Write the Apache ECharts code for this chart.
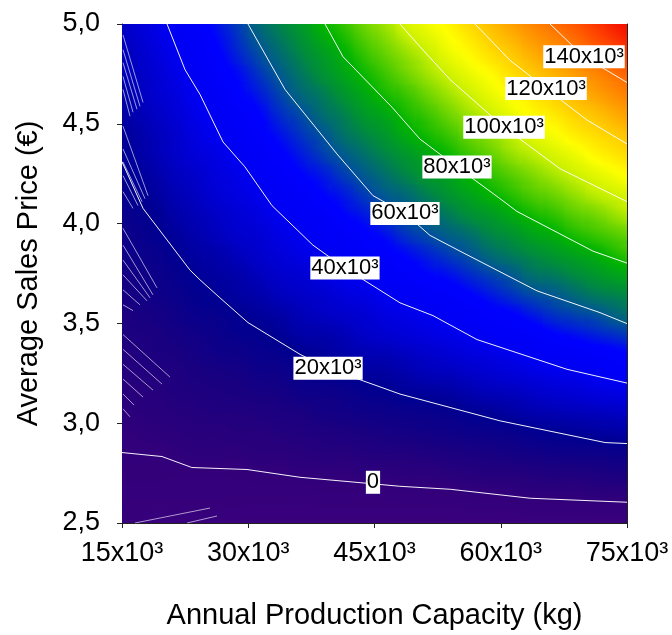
<!DOCTYPE html>
<html>
<head>
<meta charset="utf-8">
<script src="https://cdn.jsdelivr.net/npm/echarts@6/dist/echarts.min.js"></script>
<style>html,body{margin:0;padding:0;background:#fff}#c{width:672px;height:635px}</style>
</head>
<body>
<div id="c"></div>
<script>
// x: annual production capacity (x10^3 kg), cell centres
const xCenters = [16.25,18.75,21.25,23.75,26.25,28.75,31.25,33.75,36.25,38.75,41.25,43.75,46.25,48.75,51.25,53.75,56.25,58.75,61.25,63.75,66.25,68.75,71.25,73.75];
// y: average sales price (EUR), cell centres
const yCenters = [2.55,2.65,2.75,2.85,2.95,3.05,3.15,3.25,3.35,3.45,3.55,3.65,3.75,3.85,3.95,4.05,4.15,4.25,4.35,4.45,4.55,4.65,4.75,4.85,4.95];
// profit (x10^3), one array per x column, bottom to top
const zByColumn = [
[-4,-3,-1,0,1,3,4,6,7,9,10,12,13,15,16,18,19,21,22,23,25,26,28,29,31],
[-5,-3,-1,0,2,4,5,7,9,10,12,14,15,17,19,20,22,24,26,27,29,31,32,34,36],
[-5,-3,-1,1,3,5,7,8,10,12,14,16,18,20,22,24,26,28,30,31,33,35,37,39,41],
[-5,-3,-1,2,4,6,8,10,12,14,17,19,21,23,25,27,29,31,34,36,38,40,42,44,46],
[-5,-3,-1,2,4,7,9,11,14,16,18,21,23,25,28,30,33,35,37,40,42,44,47,49,51],
[-6,-3,-1,2,5,7,10,12,15,18,20,23,25,28,31,33,36,38,41,43,46,49,51,54,56],
[-6,-3,0,3,5,8,11,14,17,19,22,25,28,31,33,36,39,42,45,48,50,53,56,59,62],
[-6,-3,0,3,6,9,12,15,18,21,24,28,31,34,37,40,43,46,49,52,55,58,61,64,67],
[-6,-3,1,4,7,10,14,17,20,24,27,30,33,37,40,43,46,50,53,56,59,63,66,69,72],
[-6,-2,1,5,8,12,15,19,22,25,29,32,36,39,43,46,50,53,57,60,64,67,71,74,78],
[-6,-2,1,5,9,13,16,20,24,27,31,35,39,42,46,50,53,57,61,65,68,72,76,79,83],
[-6,-2,2,6,10,14,18,22,26,30,33,37,41,45,49,53,57,61,65,69,73,77,81,85,89],
[-6,-2,2,7,11,15,19,23,27,32,36,40,44,48,52,57,61,65,69,73,77,82,86,90,94],
[-6,-1,3,7,12,16,21,25,29,34,38,42,47,51,56,60,64,69,73,78,82,86,91,95,100],
[-6,-1,3,8,13,17,22,27,31,36,40,45,50,54,59,63,68,73,77,82,86,91,96,100,105],
[-6,-1,4,9,14,18,23,28,33,38,43,47,52,57,62,67,72,76,81,86,91,96,101,106,110],
[-5,0,5,10,15,20,25,30,35,40,45,50,55,60,65,71,76,81,86,91,96,101,106,111,116],
[-5,0,6,11,16,21,27,32,37,43,48,53,58,64,69,74,80,85,90,95,101,106,111,117,122],
[-5,1,6,12,17,23,28,34,39,45,50,56,61,67,72,78,84,89,95,100,106,111,117,122,128],
[-4,2,7,13,19,25,30,36,42,47,53,59,65,70,76,82,88,93,99,105,111,116,122,128,134],
[-4,2,8,14,20,26,32,38,44,50,56,61,67,73,79,85,91,97,103,109,115,121,127,133,139],
[-4,2,8,15,21,27,33,39,45,52,58,64,70,76,83,89,95,101,107,114,120,126,132,138,144],
[-4,3,9,15,22,28,35,41,47,54,60,67,73,79,86,92,99,105,112,118,124,131,137,144,150],
[-4,3,10,16,23,29,36,43,49,56,63,69,76,83,89,96,102,109,116,122,129,136,142,149,156]
];
// contour lines: [capacity x10^3, price]
const contour0   = [[15,2.853],[19.75,2.833],[23.3,2.778],[29.85,2.768],[36.15,2.729],[44.1,2.699],[48.0,2.684],[54.0,2.669],[63.5,2.624],[75,2.604]];
const contour20  = [[15,4.31],[17.5,4.076],[23.08,3.767],[24.27,3.718],[26.64,3.628],[29.97,3.504],[36.15,3.345],[39.48,3.275],[48.03,3.146],[59.9,3.012],[72.4,2.903],[75,2.898]];
const contour40  = [[20.35,5.0],[22.49,4.771],[24.27,4.647],[27.0,4.409],[29.61,4.284],[32.82,4.09],[37.69,3.892],[41.49,3.777],[48.03,3.603],[51.95,3.539],[57.18,3.419],[67.87,3.27],[75,3.201]];
const contour60  = [[29.97,5.0],[34.37,4.672],[40.54,4.349],[44.82,4.14],[48.62,4.051],[51.59,3.941],[55.16,3.862],[64.31,3.663],[71.79,3.554],[75,3.499]];
const contour80  = [[39.12,5.0],[41.26,4.836],[47.08,4.583],[50.41,4.423],[54.8,4.284],[59.91,4.125],[61.93,4.061],[70.96,3.862],[75,3.802]];
const contour100 = [[48.03,5.0],[50.41,4.886],[53.97,4.722],[60.39,4.483],[67.04,4.275],[75,4.11]];
const contour120 = [[56.94,5.0],[61.1,4.818],[65.38,4.677],[70.2,4.52],[75,4.399]];
const contour140 = [[65.85,5.0],[69.89,4.836],[75,4.707]];
const contours = [contour0, contour20, contour40, contour60, contour80, contour100, contour120, contour140];
// short white artefact strokes near the left edge
const streakSegments = [
[[15.12,4.945],[17.50,4.607]],[[15.12,4.871],[17.14,4.587]],[[15.12,4.806],[16.78,4.573]],[[15.12,4.737],[16.31,4.558]],[[15.12,4.672],[15.95,4.538]],
[[15.12,4.488],[18.09,4.140]],[[15.12,4.374],[17.73,4.125]],[[15.12,4.309],[17.38,4.110]],[[15.12,4.240],[16.90,4.090]],[[15.12,4.160],[16.31,4.076]],
[[15.12,3.976],[19.16,3.678]],[[15.12,3.892],[18.68,3.643]],[[15.12,3.817],[18.33,3.628]],[[15.12,3.743],[17.97,3.613]],[[15.12,3.668],[17.14,3.593]],[[15.12,3.593],[16.31,3.564]],
[[15.12,3.444],[20.70,3.231]],[[15.12,3.370],[19.75,3.196]],[[15.12,3.295],[18.68,3.166]],[[15.12,3.221],[17.50,3.131]],[[15.12,3.146],[16.43,3.091]],[[15.12,3.072],[15.95,3.032]],
[[16.54,2.5],[25.46,2.575]],[[22.72,2.5],[26.29,2.535]]
];
// contour labels
const labelX    = [44.82, 39.48, 41.49, 48.62, 54.8, 60.39, 65.38, 69.89];
const labelY    = [2.704, 3.275, 3.777, 4.051, 4.284, 4.483, 4.677, 4.836];
const labelText = ['0', '20x10³', '40x10³', '60x10³', '80x10³', '100x10³', '120x10³', '140x10³'];

const CELL_W = 2.5, CELL_H = 0.1;
const VMIN = -10, VMAX = 160;
const COLORS = ['rgb(60,0,125)','rgb(50,0,122)','rgb(25,0,128)','rgb(0,0,145)','rgb(0,0,200)','rgb(0,0,242)','rgb(0,0,255)','rgb(0,85,150)','rgb(0,140,60)','rgb(0,180,0)','rgb(100,210,0)','rgb(200,240,0)','rgb(255,255,0)','rgb(255,210,0)','rgb(255,165,0)','rgb(255,120,0)','rgb(255,70,0)','rgb(245,20,0)'];
const FONT = '"Liberation Sans", Arial, sans-serif';

function colorOf(v) {
  const t = Math.max(0, Math.min(1, (v - VMIN) / (VMAX - VMIN)));
  return echarts.color.lerp(t, COLORS);
}

const cells = [];
xCenters.forEach((x, i) => yCenters.forEach((y, j) => cells.push([x, y, zByColumn[i][j], i, j])));

function slopeX(i, j) {
  const a = Math.max(0, i - 1), b = Math.min(xCenters.length - 1, i + 1);
  return (zByColumn[b][j] - zByColumn[a][j]) / (xCenters[b] - xCenters[a]);
}
function slopeY(i, j) {
  const a = Math.max(0, j - 1), b = Math.min(yCenters.length - 1, j + 1);
  return (zByColumn[i][b] - zByColumn[i][a]) / (yCenters[b] - yCenters[a]);
}

const chart = echarts.init(document.getElementById('c'), null, {renderer: 'canvas'});
const axisCommon = {
  type: 'value',
  axisLine: {show: true, onZero: false, lineStyle: {color: '#222', width: 1}},
  axisTick: {show: true, inside: false, length: 5, lineStyle: {color: '#222'}},
  splitLine: {show: false},
  axisLabel: {color: '#000', fontSize: 27, fontFamily: FONT},
  nameTextStyle: {color: '#000', fontSize: 29, fontFamily: FONT}
};
const series = [{
  type: 'custom',
  clip: true,
  data: cells,
  encode: {x: 0, y: 1},
  renderItem: function (params, api) {
    const x = api.value(0), y = api.value(1), z = api.value(2), i = api.value(3), j = api.value(4);
    const p0 = api.coord([x - CELL_W / 2, y + CELL_H / 2]);
    const p1 = api.coord([x + CELL_W / 2, y - CELL_H / 2]);
    const c = api.coord([x, y]);
    const pxPerX = api.coord([x + 1, y])[0] - c[0];
    const pyPerY = api.coord([x, y + 1])[1] - c[1];
    const gx = slopeX(i, j) / pxPerX, gy = slopeY(i, j) / pyPerY;
    const g = Math.sqrt(gx * gx + gy * gy);
    let fill = colorOf(z);
    if (g > 1e-9) {
      const ux = gx / g, uy = gy / g;
      const corners = [[p0[0], p0[1]], [p1[0] + 1, p0[1]], [p0[0], p1[1] + 1], [p1[0] + 1, p1[1] + 1]];
      let smin = Infinity, smax = -Infinity;
      corners.forEach(p => { const s = (p[0] - c[0]) * ux + (p[1] - c[1]) * uy; smin = Math.min(smin, s); smax = Math.max(smax, s); });
      const stops = [];
      for (let k = 0; k <= 6; k++) {
        const t = k / 6, s = smin + (smax - smin) * t;
        stops.push({offset: t, color: colorOf(z + g * s)});
      }
      fill = new echarts.graphic.LinearGradient(c[0] + ux * smin, c[1] + uy * smin, c[0] + ux * smax, c[1] + uy * smax, stops, true);
    }
    return {type: 'rect', shape: {x: p0[0], y: p0[1], width: p1[0] - p0[0] + 1, height: p1[1] - p0[1] + 1},
      style: {fill: fill}};
  },
  z: 1
}];
series.push({
  type: 'lines', coordinateSystem: 'cartesian2d', z: 2, silent: true,
  data: streakSegments.map(s => ({coords: s})),
  lineStyle: {color: '#fff', width: 1, opacity: 0.6}
});
contours.forEach(c => series.push({
  type: 'line', data: c, symbol: 'none', silent: true, z: 3,
  lineStyle: {color: 'rgba(255,255,255,0.95)', width: 1}
}));
series.push({
  type: 'scatter', z: 5, symbolSize: 1, itemStyle: {color: 'rgba(0,0,0,0)', opacity: 1},
  data: labelX.map((x, i) => ({value: [x, labelY[i]], name: labelText[i]})),
  label: {show: true, position: 'inside', formatter: p => p.name, color: '#000', opacity: 1, fontSize: 22, fontFamily: FONT,
    backgroundColor: '#fff', padding: [1, 1, 0, 1]}
});

chart.setOption({
  animation: false,
  backgroundColor: '#fff',
  grid: {left: 122, top: 24, width: 505, height: 503, containLabel: false},
  xAxis: [Object.assign({}, axisCommon, {
    min: 15, max: 75, interval: 15, position: 'bottom',
    name: 'Annual Production Capacity (kg)', nameLocation: 'middle', nameGap: 78,
    axisLabel: Object.assign({}, axisCommon.axisLabel, {margin: 17, formatter: v => v + 'x10³'})
  }), Object.assign({}, axisCommon, {
    min: 15, max: 75, interval: 15, position: 'top', axisTick: {show: false}, axisLabel: {show: false}
  })],
  yAxis: [Object.assign({}, axisCommon, {
    min: 2.5, max: 5, interval: 0.5, position: 'left',
    name: 'Average Sales Price (€)', nameLocation: 'middle', nameGap: 79,
    axisLabel: Object.assign({}, axisCommon.axisLabel, {margin: 22, formatter: v => v.toFixed(1).replace('.', ',')})
  }), Object.assign({}, axisCommon, {
    min: 2.5, max: 5, interval: 0.5, position: 'right', axisTick: {show: false}, axisLabel: {show: false}
  })],
  series: series
});
</script>
</body>
</html>
